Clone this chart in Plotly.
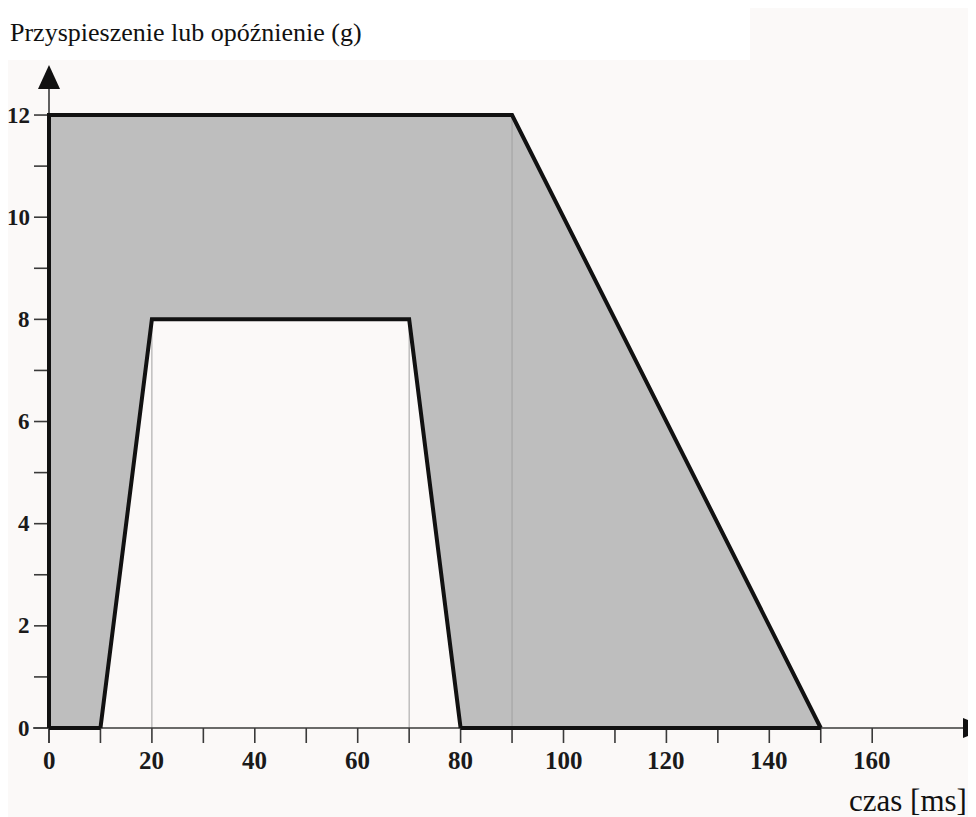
import plotly.graph_objects as go

# ---- data ----
envelope_x = [0, 0, 90, 150]          # outer limit (ms)
envelope_y = [0, 12, 12, 0]           # g
inner_x = [10, 20, 70, 80]            # inner limit (ms)
inner_y = [0, 8, 8, 0]
x_ticks = list(range(0, 170, 10))
x_tick_labels = ["0", "", "20", "", "40", "", "60", "", "80", "", "100", "", "120", "", "140", "", "160"]
y_ticks = list(range(0, 13))
y_tick_labels = ["0", "", "2", "", "4", "", "6", "", "8", "", "10", "", "12"]
title_text = "Przyspieszenie lub opóźnienie (g)"
x_title = "czas [ms]"

OFF = 8                      # browser body margin
W, H = 976 - OFF, 817 - OFF  # figure size
PX_X = 5.145   # px per ms
X0 = 49 - OFF  # figure px of x=0
PX_Y = 51.08   # px per g
Y0 = 728 - OFF # figure px of y=0

def dx(px):
    return px / PX_X

def dy(px):
    return px / PX_Y

xr = [-X0 / PX_X, (W - X0) / PX_X]
yr = [-(H - Y0) / PX_Y, Y0 / PX_Y]

SERIF = "Liberation Serif, Times New Roman, serif"
GRAY = "#bebebe"
BG = "#fbf9f8"
BLACK = "#111111"
axis_col = "#3a3a3a"

fig = go.Figure()

# grey fill of outer envelope
fig.add_trace(go.Scatter(
    x=envelope_x + [envelope_x[0]], y=envelope_y + [envelope_y[0]],
    fill="toself", fillcolor=GRAY, line=dict(width=0), mode="lines",
    hoverinfo="skip", showlegend=False))
# light inner region
fig.add_trace(go.Scatter(
    x=inner_x + [inner_x[0]], y=inner_y + [inner_y[0]],
    fill="toself", fillcolor=BG, line=dict(width=0), mode="lines",
    hoverinfo="skip", showlegend=False))

# thin grey verticals at corners
for xv, yv in [(inner_x[1], inner_y[1]), (inner_x[2], inner_y[2]), (envelope_x[2], envelope_y[2])]:
    fig.add_trace(go.Scatter(x=[xv, xv], y=[0, yv], mode="lines",
                             line=dict(color="#a0a0a0", width=1),
                             hoverinfo="skip", showlegend=False))

# axis lines
fig.add_trace(go.Scatter(x=[-dx(16), xr[1]], y=[0, 0], mode="lines",
                         line=dict(color=axis_col, width=1.6),
                         hoverinfo="skip", showlegend=False))
fig.add_trace(go.Scatter(x=[0, 0], y=[-dy(15), 12.6], mode="lines",
                         line=dict(color=axis_col, width=1.6),
                         hoverinfo="skip", showlegend=False))

# ticks
tx, ty = [], []
for t in x_ticks:
    tx += [t, t, None]
    ty += [0, -dy(15), None]
fig.add_trace(go.Scatter(x=tx, y=ty, mode="lines", line=dict(color=axis_col, width=1.6),
                         hoverinfo="skip", showlegend=False))
tx, ty = [], []
for t in y_ticks:
    tx += [-dx(15), 0, None]
    ty += [t, t, None]
fig.add_trace(go.Scatter(x=tx, y=ty, mode="lines", line=dict(color=axis_col, width=1.6),
                         hoverinfo="skip", showlegend=False))

# thick black outlines
fig.add_trace(go.Scatter(
    x=envelope_x, y=envelope_y,
    mode="lines", line=dict(color=BLACK, width=4),
    hoverinfo="skip", showlegend=False))
fig.add_trace(go.Scatter(
    x=[0, inner_x[0]], y=[0, 0], mode="lines", line=dict(color=BLACK, width=4),
    hoverinfo="skip", showlegend=False))
fig.add_trace(go.Scatter(
    x=[inner_x[3], envelope_x[3]], y=[0, 0], mode="lines", line=dict(color=BLACK, width=4),
    hoverinfo="skip", showlegend=False))
fig.add_trace(go.Scatter(
    x=inner_x, y=inner_y, mode="lines", line=dict(color=BLACK, width=4),
    hoverinfo="skip", showlegend=False))

# arrow heads and title band
shapes = []
shapes.append(dict(type="rect", xref="paper", yref="paper", x0=0, x1=(750 - OFF) / W,
                   y0=1 - (60 - OFF) / H, y1=1, fillcolor="white", line=dict(width=0), layer="below"))
top_tip = (Y0 - (65 - OFF)) / PX_Y
shapes.append(dict(type="path", xref="x", yref="y",
                   path=f"M {-dx(11)} {top_tip - dy(24)} L {dx(11)} {top_tip - dy(24)} L 0 {top_tip} Z",
                   fillcolor=BLACK, line=dict(width=0)))
base_x = ((963 - OFF) - X0) / PX_X
shapes.append(dict(type="path", xref="x", yref="y",
                   path=f"M {base_x} {dy(10)} L {base_x} {-dy(10)} L {base_x + dx(24)} 0 Z",
                   fillcolor=BLACK, line=dict(width=0)))

annotations = []
for t, lab in zip(x_ticks, x_tick_labels):
    if lab:
        annotations.append(dict(x=t, y=-dy(32), text=f"<b>{lab}</b>", showarrow=False,
                                xanchor="center", yanchor="middle",
                                font=dict(family=SERIF, size=25, color="#1a1a1a")))
for t, lab in zip(y_ticks, y_tick_labels):
    if lab:
        annotations.append(dict(x=-dx(17), y=t, text=f"<b>{lab}</b>", showarrow=False,
                                xanchor="right", yanchor="middle",
                                font=dict(family=SERIF, size=23, color="#1a1a1a")))
annotations.append(dict(xref="paper", yref="paper", x=0, y=1 - (32 - OFF) / H, text=title_text,
                        showarrow=False, xanchor="left", yanchor="middle",
                        font=dict(family=SERIF, size=26, color=BLACK)))
annotations.append(dict(xref="paper", yref="paper", x=(969 - OFF) / W, y=1 - (800 - OFF) / H,
                        text=x_title, showarrow=False, xanchor="right", yanchor="middle",
                        font=dict(family=SERIF, size=31, color=BLACK)))

fig.update_layout(
    width=W, height=H,
    margin=dict(l=0, r=0, t=0, b=0),
    paper_bgcolor=BG, plot_bgcolor=BG,
    xaxis=dict(range=xr, visible=False, fixedrange=True),
    yaxis=dict(range=yr, visible=False, fixedrange=True),
    shapes=shapes, annotations=annotations, showlegend=False,
)

fig.write_html("out.html")
